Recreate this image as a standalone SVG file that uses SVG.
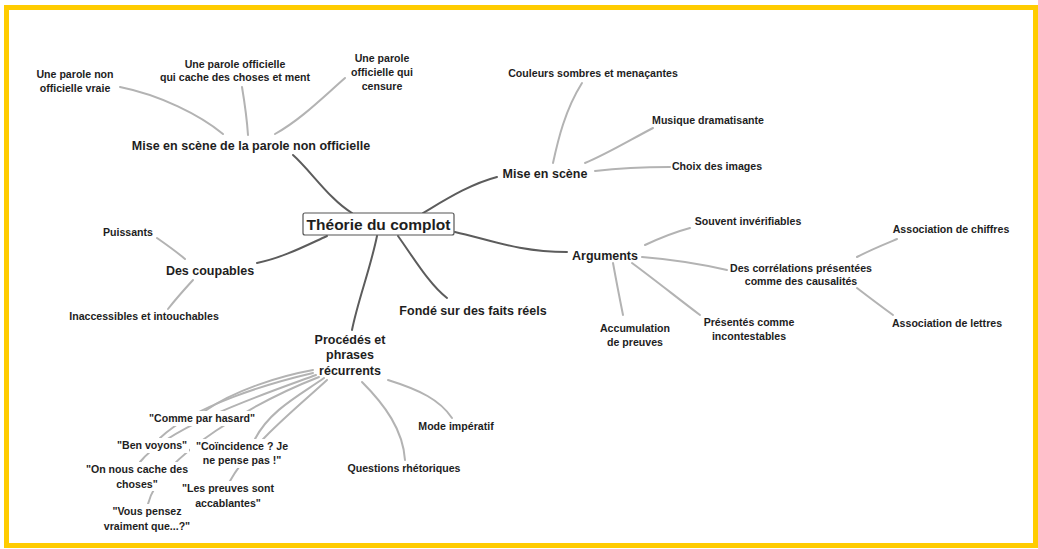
<svg xmlns="http://www.w3.org/2000/svg" width="1038" height="549" viewBox="0 0 1038 549">
<style>
text{font-family:"Liberation Sans",Arial,sans-serif;font-weight:bold;fill:#1e1e1e;text-anchor:middle}
.s{font-size:10.6px}
.m{font-size:12.5px}
.c{font-size:15.5px}
.main{fill:none;stroke:#5c5c5c;stroke-width:2;stroke-linecap:round}
.sub{fill:none;stroke:#b3b3b3;stroke-width:2;stroke-linecap:round}
.bg{fill:#fff}
</style>
<rect x="0" y="0" width="1038" height="549" fill="#fff"/>
<rect x="6.5" y="7.5" width="1029" height="538" fill="none" stroke="#ffcc00" stroke-width="5"/>
<g id="connectors">
<path class="main" d="M293,155 C310,170 330,200 352,213"/>
<path class="main" d="M423,213 C445,200 470,184 497,177"/>
<path class="main" d="M455,232 C490,240 520,252 567,252"/>
<path class="main" d="M327,236 C305,246 282,258 257,263"/>
<path class="main" d="M398,236 C415,260 430,285 447,298"/>
<path class="main" d="M377,236 C370,270 358,300 352,330"/>
<path class="sub" d="M120,87 C160,95 200,115 223,134"/>
<path class="sub" d="M242,87 C245,105 247,120 248,135"/>
<path class="sub" d="M345,78 C320,100 300,120 275,134"/>
<path class="sub" d="M582,83 C565,110 558,140 553,163"/>
<path class="sub" d="M653,128 C630,140 605,155 585,163"/>
<path class="sub" d="M595,171 C620,168 650,167 670,167"/>
<path class="sub" d="M645,245 C660,238 675,232 690,228"/>
<path class="sub" d="M642,257 C680,260 705,265 727,270"/>
<path class="sub" d="M632,263 C655,280 680,300 700,315"/>
<path class="sub" d="M613,263 C617,285 620,300 623,315"/>
<path class="sub" d="M857,257 C870,250 885,244 897,239"/>
<path class="sub" d="M857,288 C870,298 882,307 893,315"/>
<path class="sub" d="M157,238 C167,245 177,252 185,259"/>
<path class="sub" d="M193,280 C182,292 175,300 168,309"/>
<path class="sub" d="M388,380 C420,390 440,400 452,418"/>
<path class="sub" d="M362,382 C385,405 403,430 405,460"/>
<path class="sub" d="M313,370 C280,376 235,390 205,411"/>
<path class="sub" d="M313,373 C270,383 195,405 160,438"/>
<path class="sub" d="M316,375 C270,392 170,425 140,462"/>
<path class="sub" d="M319,377 C260,400 160,455 148,504"/>
<path class="sub" d="M324,378 C300,395 270,410 255,439"/>
<path class="sub" d="M327,380 C300,405 250,445 230,481"/>
</g>
<g id="center">
<rect x="303" y="213" width="151" height="22" rx="2" fill="#fff" stroke="#555" stroke-width="1.2"/>
<text class="c" x="378.5" y="230">Théorie du complot</text>
</g>
<g id="n1"><text class="m" x="251" y="150">Mise en scène de la parole non officielle</text></g>
<g id="n1a"><text class="s" x="75" y="78">Une parole non</text><text class="s" x="75" y="92">officielle vraie</text></g>
<g id="n1b"><text class="s" x="235" y="68">Une parole officielle</text><text class="s" x="235" y="81">qui cache des choses et ment</text></g>
<g id="n1c"><text class="s" x="382" y="62">Une parole</text><text class="s" x="382" y="76">officielle qui</text><text class="s" x="382" y="90">censure</text></g>
<g id="n2"><text class="m" x="545" y="178">Mise en scène</text></g>
<g id="n2a"><text class="s" x="593" y="77">Couleurs sombres et menaçantes</text></g>
<g id="n2b"><text class="s" x="708" y="124">Musique dramatisante</text></g>
<g id="n2c"><text class="s" x="717" y="170">Choix des images</text></g>
<g id="n3"><text class="m" x="605" y="260">Arguments</text></g>
<g id="n3a"><text class="s" x="748" y="225">Souvent invérifiables</text></g>
<g id="n3b"><text class="s" x="801" y="272">Des corrélations présentées</text><text class="s" x="801" y="285">comme des causalités</text></g>
<g id="n3b1"><text class="s" x="951" y="233">Association de chiffres</text></g>
<g id="n3b2"><text class="s" x="947" y="327">Association de lettres</text></g>
<g id="n3c"><text class="s" x="749" y="326">Présentés comme</text><text class="s" x="749" y="340">incontestables</text></g>
<g id="n3d"><text class="s" x="635" y="332">Accumulation</text><text class="s" x="635" y="346">de preuves</text></g>
<g id="n4"><text class="m" x="210" y="275">Des coupables</text></g>
<g id="n4a"><text class="s" x="128" y="236">Puissants</text></g>
<g id="n4b"><text class="s" x="144" y="320">Inaccessibles et intouchables</text></g>
<g id="n5"><text class="m" x="473" y="315">Fondé sur des faits réels</text></g>
<g id="n6"><text class="m" x="350" y="344">Procédés et</text><text class="m" x="350" y="359">phrases</text><text class="m" x="350" y="375">récurrents</text></g>
<g id="n6a"><text class="s" x="456" y="430">Mode impératif</text></g>
<g id="n6b"><text class="s" x="404" y="472">Questions rhétoriques</text></g>
<g id="n6c"><rect class="bg" x="150" y="411" width="104" height="15"/><text class="s" x="202" y="422">"Comme par hasard"</text></g>
<g id="n6d"><rect class="bg" x="115" y="438" width="74" height="15"/><text class="s" x="152" y="449">"Ben voyons"</text></g>
<g id="n6e"><rect class="bg" x="190" y="439" width="105" height="29"/><text class="s" x="242" y="450">"Coïncidence ? Je</text><text class="s" x="242" y="464">ne pense pas !"</text></g>
<g id="n6f"><rect class="bg" x="83" y="462" width="108" height="29"/><text class="s" x="137" y="473">"On nous cache des</text><text class="s" x="137" y="488">choses"</text></g>
<g id="n6g"><rect class="bg" x="179" y="481" width="98" height="29"/><text class="s" x="228" y="492">"Les preuves sont</text><text class="s" x="228" y="507">accablantes"</text></g>
<g id="n6h"><rect class="bg" x="100" y="504" width="94" height="29"/><text class="s" x="147" y="515">"Vous pensez</text><text class="s" x="147" y="530">vraiment que...?"</text></g>
</svg>
